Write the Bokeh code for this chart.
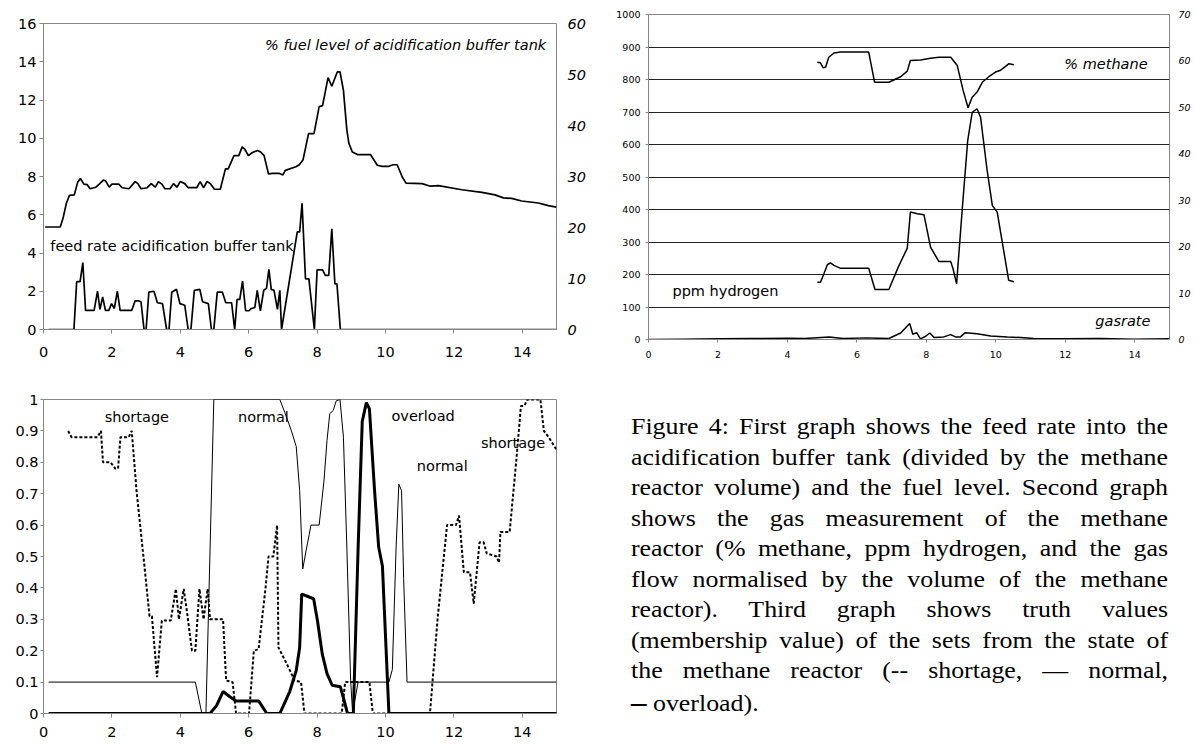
from bokeh.plotting import figure
from bokeh.layouts import row, column
from bokeh.models import Range1d, LinearAxis, FixedTicker, Label, Div, CustomJSTickFormatter
from bokeh.embed import file_html
from bokeh.resources import INLINE

# ---------------- data ----------------
# Graph 1: fuel level (% , right axis) and feed rate (left axis)
fuel_x = [0.05,0.49,0.57,0.67,0.76,0.9,1.0,1.08,1.18,1.28,
          1.36,1.53,1.63,1.75,1.82,1.92,2.0,2.2,2.3,2.5,
          2.68,2.76,2.85,3.03,3.15,3.27,3.36,3.46,3.55,3.7,
          3.8,3.9,4.0,4.13,4.23,4.48,4.58,4.68,4.78,4.88,
          5.0,5.17,5.32,5.4,5.57,5.71,5.81,5.89,5.99,6.11,
          6.26,6.35,6.45,6.58,6.7,6.9,7.0,7.07,7.38,7.48,
          7.59,7.75,7.91,8.06,8.16,8.32,8.43,8.59,8.67,8.77,
          8.87,8.93,9.03,9.18,9.56,9.76,9.9,10.1,10.22,10.34,
          10.49,10.6,11.07,11.31,11.55,12.23,12.82,13.2,13.45,13.69,
          13.98,14.47,14.76,15.0]
fuel_pct = [20.1,20.1,21.8,24.8,26.3,26.4,28.9,29.6,28.5,28.4,
            27.6,27.9,28.5,29.3,29.1,27.9,28.5,28.5,27.8,27.6,
            29.0,28.6,27.6,27.8,28.6,27.9,29.0,28.5,27.6,27.6,
            28.6,27.9,29.0,28.6,27.8,27.8,29.0,27.8,29.0,28.6,
            27.5,27.5,31.5,31.5,34.1,34.1,35.8,35.3,34.1,34.7,
            35.1,34.8,34.1,30.5,30.6,30.6,30.3,31.2,31.9,32.3,
            33.3,38.4,38.4,43.7,43.9,49.4,47.7,50.5,50.5,46.9,
            39.1,36.5,34.8,34.3,34.3,32.2,32.0,32.0,32.3,32.3,
            29.9,28.7,28.6,28.1,28.2,27.4,26.9,26.4,25.8,25.7,
            25.2,24.8,24.3,24.0]
feed_x = [0.15,0.89,0.97,1.07,1.15,1.23,1.48,1.58,1.65,1.73,
          1.81,1.91,1.99,2.07,2.16,2.24,2.58,2.68,2.77,2.85,
          2.94,3.0,3.08,3.23,3.33,3.48,3.6,3.67,3.75,3.89,
          3.99,4.13,4.23,4.31,4.41,4.57,4.65,4.82,4.91,4.98,
          5.08,5.23,5.33,5.5,5.59,5.66,5.74,5.82,5.91,6.01,
          6.08,6.18,6.25,6.34,6.44,6.52,6.59,6.66,6.74,6.84,
          6.91,6.96,7.42,7.49,7.56,7.66,7.76,7.92,8.0,8.16,
          8.24,8.34,8.43,8.52,8.58,8.68,15.0]
feed_rate = [0,0,2.5,2.5,3.5,1.0,1.0,2.0,1.05,1.7,
             1.0,1.0,1.35,1.1,2.0,1.0,1.0,1.5,1.5,1.45,
             0,0,1.95,2.0,1.4,1.35,0,0,1.95,2.1,
             1.35,1.27,0,0,2.05,2.1,1.45,1.35,0,0,
             1.95,1.95,1.4,1.4,0,1.57,1.57,2.53,0.98,0.98,
             1.1,1.15,2.05,0.98,2.05,2.15,3.14,2.1,2.05,1.05,
             2.05,0,5.1,5.1,6.6,2.65,2.65,0,3.12,3.12,
             2.83,2.83,5.26,2.39,2.39,0,0]

# Graph 2: % methane (right), ppm hydrogen (left), gasrate (right)
meth_x = [4.86,4.95,5.03,5.1,5.19,5.34,5.53,6.34,6.51,6.92,
          7.26,7.45,7.54,7.83,8.12,8.36,8.7,8.89,9.06,9.2,
          9.32,9.46,9.61,9.8,9.99,10.14,10.38,10.52]
meth_pct = [59.7,59.6,58.5,58.7,60.8,61.7,61.9,61.9,55.4,55.4,
            56.6,57.8,60.1,60.2,60.6,60.8,60.8,59.0,53.6,49.9,
            52.2,53.3,55.4,56.6,57.6,58.0,59.4,59.2]
h2_x = [4.86,4.95,5.05,5.15,5.24,5.34,5.53,6.34,6.52,6.92,
        7.2,7.45,7.54,7.74,7.93,8.12,8.36,8.7,8.77,8.87,
        9.03,9.19,9.32,9.46,9.56,9.75,9.9,10.04,10.37,10.52]
h2_ppm = [176,176,202,230,236,228,219,219,154,154,
          225,281,392,387,384,284,240,240,217,171,
          397,612,699,710,684,520,412,392,182,178]
gas_x = [0,1,2,3,4,4.5,5.2,5.6,6.3,6.6,
         6.92,7.26,7.52,7.61,7.72,7.83,7.98,8.1,8.22,8.5,
         8.7,8.84,8.98,9.12,9.46,9.85,10.33,10.71,11.09,12,
         13,14,15]
gas_rate = [0,0.07,0.14,0.21,0.28,0.21,0.56,0.21,0.35,0.28,
            0.21,1.4,3.43,1.12,1.47,0.14,0.7,1.4,0.42,0.56,
            1.05,0.56,0.56,1.47,1.26,0.77,0.56,0.42,0.21,0.14,
            0.21,0.07,0.14]

# Graph 3: membership values
short_x = [0.72,0.82,1.58,1.68,1.74,1.96,2.1,2.18,2.25,2.49,
           2.58,2.72,2.96,3.1,3.17,3.32,3.46,3.72,3.87,3.96,
           4.1,4.2,4.34,4.44,4.56,4.68,4.8,4.87,5.25,5.34,
           5.53,5.63,6.01,6.15,6.29,6.49,6.58,6.72,6.83,6.87,
           7.15,7.34,7.53,7.63,8.72,8.82,9.53,9.63,11.3,11.53,
           11.8,12.06,12.15,12.29,12.47,12.58,12.75,12.87,12.96,13.25,
           13.32,13.36,13.63,13.82,13.96,14.06,14.15,14.53,14.63,14.77,
           15.0]
short_v = [0.90,0.88,0.88,0.90,0.80,0.80,0.78,0.78,0.88,0.88,
           0.90,0.71,0.46,0.31,0.31,0.116,0.296,0.296,0.397,0.30,
           0.397,0.32,0.20,0.20,0.397,0.30,0.397,0.30,0.30,0.105,
           0.10,0.0,0.0,0.20,0.205,0.397,0.50,0.50,0.60,0.21,
           0.15,0.105,0.10,0.0,0.0,0.10,0.10,0.0,0.0,0.31,
           0.60,0.60,0.63,0.45,0.45,0.35,0.545,0.545,0.51,0.50,
           0.48,0.578,0.578,0.80,0.979,0.98,1.0,1.0,0.90,0.88,
           0.84]
norm_x = [0.15,4.44,4.63,4.75,4.98,6.91,7.05,7.25,7.39,7.49,
          7.58,7.68,7.77,7.82,8.06,8.2,8.29,8.37,8.47,8.56,
          8.67,8.77,8.87,8.98,9.04,9.1,9.2,10.1,10.2,10.31,
          10.39,10.47,10.53,10.63,15.0]
norm_v = [0.10,0.10,0.0,0.0,1.0,1.0,0.96,0.90,0.85,0.71,
          0.46,0.52,0.57,0.60,0.60,0.74,0.87,0.955,0.965,0.996,
          1.0,0.88,0.53,0.105,0.0,0.04,0.10,0.10,0.14,0.53,
          0.73,0.71,0.43,0.10,0.10]
over_x = [0.15,4.87,5.06,5.25,5.44,5.63,6.29,6.53,6.91,7.2,
          7.39,7.49,7.55,7.68,7.9,8.01,8.15,8.29,8.44,8.68,
          8.77,8.89,9.06,9.2,9.32,9.44,9.53,9.68,9.8,9.91,
          10.1,15.0]
over_v = [0.0,0.0,0.025,0.07,0.054,0.04,0.04,0.0,0.0,0.07,
          0.137,0.21,0.38,0.375,0.365,0.296,0.19,0.127,0.09,0.085,
          0.05,0.0,0.0,0.53,0.93,0.99,0.97,0.71,0.53,0.47,
          0.0,0.0]

x_ticks = [0, 2, 4, 6, 8, 10, 12, 14]
g1_left_ticks = [0, 2, 4, 6, 8, 10, 12, 14, 16]
g1_right_ticks = [0, 10, 20, 30, 40, 50, 60]
g2_left_ticks = [0, 100, 200, 300, 400, 500, 600, 700, 800, 900, 1000]
g2_right_ticks = [0, 10, 20, 30, 40, 50, 60, 70]
g3_ticks = [0, 0.1, 0.2, 0.3, 0.4, 0.5, 0.6, 0.7, 0.8, 0.9, 1.0]

g1_labels = ["% fuel level of acidification buffer tank", "feed rate acidification buffer tank"]
g2_labels = ["% methane", "ppm hydrogen", "gasrate"]
g3_labels = ["shortage", "normal", "overload", "shortage", "normal"]

caption_lines = [
    "Figure 4: First graph shows the feed rate into the",
    "acidification buffer tank (divided by the methane",
    "reactor volume) and the fuel level. Second graph",
    "shows the gas measurement of the methane",
    "reactor (% methane, ppm hydrogen, and the gas",
    "flow normalised by the volume of the methane",
    "reactor). Third graph shows truth values",
    "(membership value) of the sets from the state of",
    "the methane reactor (-- shortage, \u2014 normal,",
    "\u2013 overload).",
]

# ---------------- styling helpers ----------------
FONT = "DejaVu Sans"
AX = "#868686"


def base_fig(width, height, xr, yr, bl, br, bt, bb):
    p = figure(width=width, height=height, x_range=Range1d(*xr), y_range=Range1d(*yr),
               output_backend="svg", toolbar_location=None,
               min_border_left=bl, min_border_right=br, min_border_top=bt, min_border_bottom=bb)
    p.xgrid.visible = False
    p.ygrid.visible = False
    p.outline_line_color = AX
    p.outline_line_width = 1
    p.background_fill_color = "white"
    p.border_fill_color = "white"
    return p


def style_axis(ax, size, tick_out, standoff, italic=False, ticks_visible=True, line=True):
    ax.axis_line_color = AX if line else None
    ax.major_tick_line_color = AX if ticks_visible else None
    ax.major_tick_out = tick_out
    ax.major_tick_in = 0
    ax.minor_tick_line_color = None
    ax.major_label_text_font = FONT
    ax.major_label_text_font_size = size
    ax.major_label_text_color = "black"
    ax.major_label_standoff = standoff
    if italic:
        ax.major_label_text_font_style = "italic"


# ---------------- graph 1 ----------------
p1 = base_fig(593, 367, (0, 15), (0, 16), 40, 37, 23, 38)
p1.extra_y_ranges = {"pct": Range1d(0, 60)}
p1.xaxis.ticker = FixedTicker(ticks=x_ticks)
p1.yaxis.ticker = FixedTicker(ticks=g1_left_ticks)
style_axis(p1.xaxis[0], "14.5px", 4, 13)
style_axis(p1.yaxis[0], "14.5px", 4, 3)
r1 = LinearAxis(y_range_name="pct", ticker=FixedTicker(ticks=g1_right_ticks))
style_axis(r1, "14.5px", 0, 11, italic=True, ticks_visible=False, line=False)
p1.add_layout(r1, "right")
p1.line(fuel_x, fuel_pct, y_range_name="pct", line_color="black", line_width=1.7)
p1.line(feed_x, feed_rate, line_color="black", line_width=1.7)
p1.add_layout(Label(x=14.7, y=14.85, text=g1_labels[0], text_align="right", text_baseline="middle",
                    text_font=FONT, text_font_style="italic", text_font_size="14.5px", text_color="black"))
p1.add_layout(Label(x=0.2, y=4.39, text=g1_labels[1], text_align="left", text_baseline="middle",
                    text_font=FONT, text_font_size="14.5px", text_color="black"))

# ---------------- graph 2 ----------------
p2 = base_fig(601, 369, (0, 15), (0, 1000), 55, 25, 14, 30)
p2.extra_y_ranges = {"r": Range1d(0, 70)}
p2.xaxis.ticker = FixedTicker(ticks=x_ticks)
p2.yaxis.ticker = FixedTicker(ticks=g2_left_ticks)
p2.ygrid.visible = True
p2.ygrid.ticker = FixedTicker(ticks=g2_left_ticks)
p2.ygrid.grid_line_color = "#222222"
p2.ygrid.grid_line_width = 1
style_axis(p2.xaxis[0], "9.5px", 3, 8)
style_axis(p2.yaxis[0], "9.5px", 3, 5)
r2 = LinearAxis(y_range_name="r", ticker=FixedTicker(ticks=g2_right_ticks))
style_axis(r2, "9.5px", 0, 9, italic=True, ticks_visible=False, line=False)
p2.add_layout(r2, "right")
p2.line(meth_x, meth_pct, y_range_name="r", line_color="black", line_width=1.5)
p2.line(h2_x, h2_ppm, line_color="black", line_width=1.5)
p2.line(gas_x, gas_rate, y_range_name="r", line_color="black", line_width=1.5)
p2.add_layout(Label(x=14.37, y=849, text=g2_labels[0], text_align="right", text_baseline="middle",
                    text_font=FONT, text_font_style="italic", text_font_size="14.5px", text_color="black"))
p2.add_layout(Label(x=0.69, y=148, text=g2_labels[1], text_align="left", text_baseline="middle",
                    text_font=FONT, text_font_size="14.5px", text_color="black"))
p2.add_layout(Label(x=14.45, y=58, text=g2_labels[2], text_align="right", text_baseline="middle",
                    text_font=FONT, text_font_style="italic", text_font_size="14.5px", text_color="black"))

# ---------------- graph 3 ----------------
p3 = base_fig(593, 377, (0, 15), (0, 1), 43, 25, 32, 31)
p3.xaxis.ticker = FixedTicker(ticks=x_ticks)
p3.yaxis.ticker = FixedTicker(ticks=g3_ticks)
p3.yaxis.formatter = CustomJSTickFormatter(code="return tick.toFixed(1).replace(/\\.0$/, '');")
style_axis(p3.xaxis[0], "14.5px", 4, 9)
style_axis(p3.yaxis[0], "14.5px", 3, 2)
p3.line(norm_x, norm_v, line_color="black", line_width=1)
p3.line(short_x, short_v, line_color="black", line_width=2, line_dash="3 2")
p3.line(over_x, over_v, line_color="black", line_width=3)
g3_pos = [(2.73, 0.943), (6.43, 0.943), (11.1, 0.946), (13.73, 0.863), (11.66, 0.787)]
for (lx, ly), txt in zip(g3_pos, g3_labels):
    p3.add_layout(Label(x=lx, y=ly, text=txt, text_align="center", text_baseline="middle",
                        text_font=FONT, text_font_size="14.5px", text_color="black"))

# ---------------- caption ----------------
just = "text-align:justify;text-align-last:justify;"
html_lines = []
for i, ln in enumerate(caption_lines):
    t = ln.replace("&", "&amp;").replace("<", "&lt;")
    if i == len(caption_lines) - 1:
        t = t.replace("\u2013", '<b style="font-size:27px;">\u2013</b>', 1)
        html_lines.append(f'<div style="text-align:left;">{t}</div>')
    else:
        html_lines.append(f'<div style="{just}">{t}</div>')
caption_html = (
    '<div style="margin:38px 0 0 33px;width:467px;transform:scaleX(1.15);transform-origin:0 0;'
    "font-family:'Liberation Serif';font-size:22.5px;line-height:30.5px;color:#000;\">"
    + "".join(html_lines) + "</div>"
)
div = Div(text=caption_html, width=601, height=375)

layout = row(column(p1, p3), column(p2, div))
open("out.html", "w").write(file_html(layout, INLINE))
